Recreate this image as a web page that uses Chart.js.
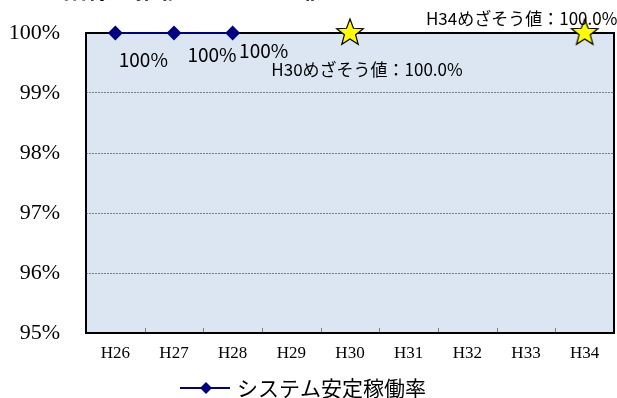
<!DOCTYPE html>
<html>
<head>
<meta charset="utf-8">
<script src="https://cdn.jsdelivr.net/npm/chart.js@4/dist/chart.umd.min.js"></script>
<style>
html,body{margin:0;padding:0;background:#fff;}
#wrap{width:617px;height:398px;}
</style>
</head>
<body>
<div id="wrap"><canvas id="c" width="617" height="398"></canvas></div>
<script>
// data
const years = ["H26","H27","H28","H29","H30","H31","H32","H33","H34"];
const rate = [100,100,100,null,null,null,null,null,null];
const rateLabels = ["100%","100%","100%"];
const target = [null,null,null,null,100,null,null,null,100];
const targetLabels = {4:"H30めざそう値：100.0%",8:"H34めざそう値：100.0%"};
const yTicks = [95,96,97,98,99,100];
const title = "指標の推移とめざそう値";
const seriesName = "システム安定稼働率";

// label offsets from the point (px)
const rateOff = [[28,27],[38,22],[31,18]];
const targetOff = {4:[17,37],8:[-63,-14]};

const JP = '"Noto Sans CJK JP","Noto Sans",sans-serif';
const SERIF = '"Liberation Serif","DejaVu Serif",serif';

function makeStar(r){
    const c = document.createElement("canvas");
    c.width = c.height = r*2+4;
    const g = c.getContext("2d");
    g.beginPath();
    for(let i=0;i<10;i++){
        const a = -Math.PI/2 + i*Math.PI/5;
        const rr = i%2 ? r*0.42 : r;
        const x = r+2 + rr*Math.cos(a), y = r+2 + rr*Math.sin(a);
        i ? g.lineTo(x,y) : g.moveTo(x,y);
    }
    g.closePath();
    g.fillStyle = "#ffff00";
    g.fill();
    g.lineWidth = 1.2;
    g.strokeStyle = "#000";
    g.stroke();
    return c;
}
const star = makeStar(14);

const deco = {
    id:"deco",
    beforeDraw(chart){
        const {ctx, chartArea:a} = chart;
        ctx.save();
        ctx.fillStyle = "#dce6f2";
        ctx.fillRect(a.left,a.top,a.right-a.left,a.bottom-a.top);
        ctx.restore();
    },
    beforeDatasetsDraw(chart){
        const {ctx, chartArea:a, scales:{x}} = chart;
        ctx.save();
        // inward ticks at category boundaries
        ctx.strokeStyle = "#808080";
        ctx.lineWidth = 1;
        for(let i=0;i<years.length-1;i++){
            const px = Math.round((x.getPixelForValue(i)+x.getPixelForValue(i+1))/2)+0.5;
            ctx.beginPath();
            ctx.moveTo(px,a.bottom);
            ctx.lineTo(px,a.bottom-5);
            ctx.stroke();
        }
        ctx.strokeStyle = "#000";
        ctx.lineWidth = 2;
        ctx.strokeRect(a.left,a.top,a.right-a.left,a.bottom-a.top);
        // title (cut off at the top)
        ctx.fillStyle = "#000";
        ctx.font = "bold 24px " + JP;
        ctx.textBaseline = "alphabetic";
        ctx.textAlign = "left";
        ctx.fillText(title,63,-2);
        ctx.restore();
    },
    afterDatasetsDraw(chart){
        const {ctx, scales:{x,y}} = chart;
        ctx.save();
        ctx.fillStyle = "#000";
        ctx.textAlign = "center";
        ctx.textBaseline = "middle";
        ctx.font = "19px " + JP;
        rateLabels.forEach((t,i)=>{
            const px = x.getPixelForValue(i), py = y.getPixelForValue(rate[i]);
            ctx.fillText(t, px+rateOff[i][0], py+rateOff[i][1]);
        });
        ctx.font = "17px " + JP;
        Object.keys(targetLabels).forEach(k=>{
            const i = +k;
            const px = x.getPixelForValue(i), py = y.getPixelForValue(target[i]);
            ctx.fillText(targetLabels[k], px+targetOff[k][0], py+targetOff[k][1]);
        });
        // legend
        const lx = 180, ly = 388;
        ctx.strokeStyle = "#000080";
        ctx.lineWidth = 2;
        ctx.beginPath();
        ctx.moveTo(lx,ly); ctx.lineTo(lx+50,ly); ctx.stroke();
        ctx.fillStyle = "#000080";
        ctx.beginPath();
        ctx.moveTo(lx+26,ly-6); ctx.lineTo(lx+32,ly); ctx.lineTo(lx+26,ly+6); ctx.lineTo(lx+20,ly);
        ctx.closePath(); ctx.fill();
        ctx.fillStyle = "#000";
        ctx.textAlign = "left";
        ctx.font = "21px " + JP;
        ctx.fillText(seriesName, lx+57, ly);
        ctx.restore();
    }
};

new Chart(document.getElementById("c"),{
    type:"line",
    data:{
        labels:years,
        datasets:[
            {label:seriesName,data:rate,borderColor:"#000080",backgroundColor:"#000080",
             borderWidth:2,pointStyle:"rectRot",pointRadius:6,pointHoverRadius:6,spanGaps:false,clip:false},
            {label:"めざそう値",data:target,showLine:false,pointStyle:star,pointRadius:14,clip:false}
        ]
    },
    options:{
        responsive:false,
        animation:false,
        events:[],
        layout:{autoPadding:false,padding:{top:33,right:3,left:0,bottom:0}},
        plugins:{legend:{display:false},tooltip:{enabled:false},title:{display:false}},
        scales:{
            x:{
                offset:true,
                grid:{display:false,drawTicks:false},
                border:{display:false},
                ticks:{color:"#000",font:{family:SERIF,size:17},padding:10},
                afterFit(s){ s.height = 65; s.paddingLeft = 0; s.paddingRight = 0; }
            },
            y:{
                min:95,max:100,
                afterBuildTicks(s){ s.ticks = yTicks.map(v=>({value:v})); },
                grid:{color:c=>(c.tick.value>95&&c.tick.value<100)?"#7f7f7f":"rgba(0,0,0,0)",
                      drawTicks:false,lineWidth:1},
                border:{display:false,dash:[2,1]},
                ticks:{color:"#000",font:{family:SERIF,size:22},padding:26,callback:v=>v+"%"},
                afterFit(s){ s.width = 86; s.paddingTop = 0; s.paddingBottom = 0; }
            }
        }
    },
    plugins:[deco]
});
</script>
</body>
</html>
